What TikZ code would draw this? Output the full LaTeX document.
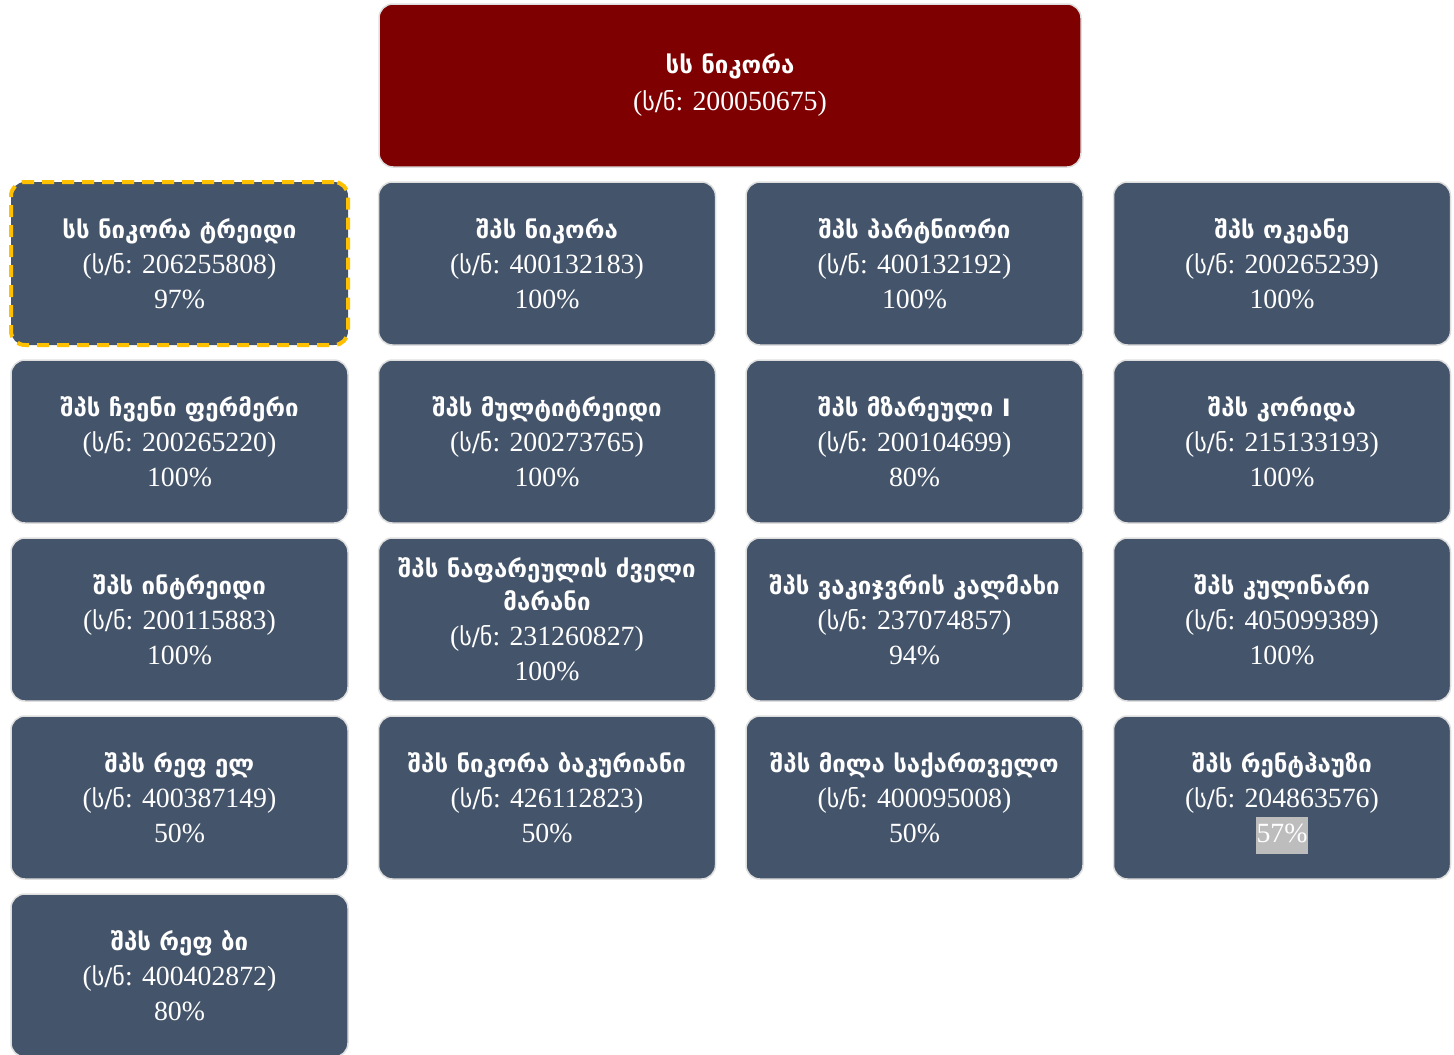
\documentclass[tikz,border=0pt]{standalone}
\usepackage{fontspec}
\setmainfont{Liberation Serif}
\newfontfamily\kafont{DejaVu Sans}
\usetikzlibrary{positioning}

\definecolor{slate}{HTML}{44546A}
\definecolor{maroon}{HTML}{7F0000}
\definecolor{boxedge}{HTML}{DEDEDE}
\definecolor{gold}{HTML}{FFC000}
\definecolor{hlgrey}{HTML}{BDBDBD}

\newcommand{\kahead}[1]{{\kafont\bfseries\fontsize{24}{35}\selectfont #1}}
\newcommand{\ka}[1]{{\kafont\fontsize{24}{35}\selectfont #1}}

\begin{document}
\begin{tikzpicture}[
    x=1pt, y=-1pt,
    node distance=15pt and 30.5pt,
    unitbox/.style={draw=boxedge, line width=1.5pt, rounded corners=14pt, fill=slate, text=white, align=center, minimum width=337pt, minimum height=163pt, inner sep=0pt, outer sep=0pt, font=\fontsize{27.8}{35}\selectfont},
    rootbox/.style={unitbox, fill=maroon, minimum width=702pt},
    focusbox/.style={unitbox, draw=gold, line width=4pt, dash pattern=on 12pt off 8pt}
]
\useasboundingbox (0,0) rectangle (1454,1055);
\node[rootbox] (nikora) at (730,85.5) {\kahead{სს ნიკორა}\\[2pt](\ka{ს/ნ}: 200050675)};
% first row
\node[focusbox] (trade) at (179.5,263.5) {\kahead{სს ნიკორა ტრეიდი}\\(\ka{ს/ნ}: 206255808)\\97\%};
\node[unitbox, right=of trade] (shpsnik) {\kahead{შპს ნიკორა}\\(\ka{ს/ნ}: 400132183)\\100\%};
\node[unitbox, right=of shpsnik] (partner) {\kahead{შპს პარტნიორი}\\(\ka{ს/ნ}: 400132192)\\100\%};
\node[unitbox, right=of partner] (ocean) {\kahead{შპს ოკეანე}\\(\ka{ს/ნ}: 200265239)\\100\%};
% second row
\node[unitbox, below=of trade] (farmer) {\kahead{შპს ჩვენი ფერმერი}\\(\ka{ს/ნ}: 200265220)\\100\%};
\node[unitbox, below=of shpsnik] (multi) {\kahead{შპს მულტიტრეიდი}\\(\ka{ს/ნ}: 200273765)\\100\%};
\node[unitbox, below=of partner] (cook) {\kahead{შპს მზარეული I}\\(\ka{ს/ნ}: 200104699)\\80\%};
\node[unitbox, below=of ocean] (corrida) {\kahead{შპს კორიდა}\\(\ka{ს/ნ}: 215133193)\\100\%};
% third row
\node[unitbox, below=of farmer] (intrade) {\kahead{შპს ინტრეიდი}\\(\ka{ს/ნ}: 200115883)\\100\%};
\node[unitbox, below=of multi] (marani) {\kahead{შპს ნაფარეულის ძველი}\\[-2pt]\kahead{მარანი}\\(\ka{ს/ნ}: 231260827)\\100\%};
\node[unitbox, below=of cook] (trout) {\kahead{შპს ვაკიჯვრის კალმახი}\\(\ka{ს/ნ}: 237074857)\\94\%};
\node[unitbox, below=of corrida] (culinar) {\kahead{შპს კულინარი}\\(\ka{ს/ნ}: 405099389)\\100\%};
% fourth row
\node[unitbox, below=of intrade] (refel) {\kahead{შპს რეფ ელ}\\(\ka{ს/ნ}: 400387149)\\50\%};
\node[unitbox, below=of marani] (bakur) {\kahead{შპს ნიკორა ბაკურიანი}\\(\ka{ს/ნ}: 426112823)\\50\%};
\node[unitbox, below=of trout] (mila) {\kahead{შპს მილა საქართველო}\\(\ka{ს/ნ}: 400095008)\\50\%};
\node[unitbox, below=of culinar] (rent) {\kahead{შპს რენტჰაუზი}\\(\ka{ს/ნ}: 204863576)\\\smash{\setlength{\fboxsep}{1pt}\colorbox{hlgrey}{\strut 57\%}}};
% fifth row
\node[unitbox, below=of refel] (refbi) {\kahead{შპს რეფ ბი}\\(\ka{ს/ნ}: 400402872)\\80\%};
\end{tikzpicture}
\end{document}
